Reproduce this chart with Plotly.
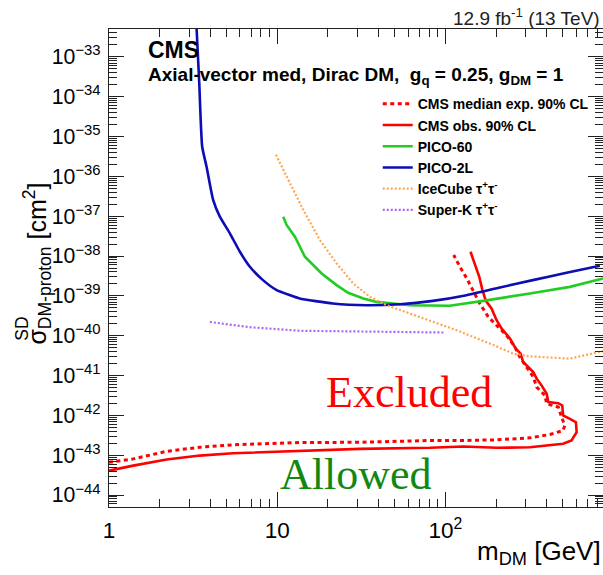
import plotly.graph_objects as go

# ---------------- data ----------------
# CMS median expected 90% CL (dotted red)
exp_mass = [1.0, 1.393, 2.20, 3.47, 5.45, 7.89, 13.6, 31.0, 80.9, 127.6, 201.6, 318, 418, 501, 513,
            491, 469, 400, 391, 349, 333, 304, 277, 259, 231, 206, 180, 160, 146, 134, 122, 112]
exp_xsec = [6.62e-44, 8.07e-44, 1.25e-43, 1.58e-43, 1.82e-43, 1.9e-43, 2.07e-43, 2.11e-43, 2.33e-43,
            2.33e-43, 2.43e-43, 2.72e-43, 3.30e-43, 4.16e-43, 5.56e-43, 9.0e-43, 1.61e-42, 1.95e-42,
            3.16e-42, 5.12e-42, 9.14e-42, 1.63e-41, 2.90e-41, 5.20e-41, 1.02e-40, 1.66e-40, 2.95e-40,
            6.43e-40, 1.39e-39, 2.74e-39, 5.37e-39, 1.06e-38]

# CMS observed 90% CL (solid red)
obs_mass = [1.0, 1.393, 2.20, 3.47, 5.45, 7.89, 13.6, 31.0, 80.9, 127.6, 201.6, 318, 501, 562, 603,
            597, 550, 501, 495, 469, 409, 400, 373, 349, 333, 311, 290, 280, 262, 242, 216, 201.6,
            188, 174, 166, 159, 150, 141]
obs_xsec = [4.09e-44, 5.47e-44, 7.76e-44, 9.77e-44, 1.117e-43, 1.18e-43, 1.31e-43, 1.44e-43, 1.53e-43,
            1.65e-43, 1.53e-43, 1.58e-43, 1.93e-43, 2.33e-43, 3.77e-43, 6.73e-43, 8.20e-43, 9.93e-43,
            1.77e-42, 2.02e-42, 2.15e-42, 3.49e-42, 5.65e-42, 8.32e-42, 1.22e-41, 1.63e-41, 2.18e-41,
            3.55e-41, 4.74e-41, 8.46e-41, 1.51e-40, 2.44e-40, 4.81e-40, 7.48e-40, 1.39e-39, 3.01e-39,
            5.92e-39, 1.28e-38]

# PICO-60 (green)
pico60_mass = [10.86, 11.37, 12.74, 14.61, 18.37, 22.55, 26.4, 32.5, 39.0, 46.8, 61.5, 106, 168, 318, 550, 864]
pico60_xsec = [9.73e-38, 6.01e-38, 3.05e-38, 9.58e-39, 3.66e-39, 1.86e-39, 1.19e-39, 8.59e-40, 7.05e-40,
               6.43e-40, 5.82e-40, 5.66e-40, 7.48e-40, 1.15e-39, 1.68e-39, 2.74e-39]

# PICO-2L (blue)
pico2l_mass = [3.30, 3.32, 3.44, 3.58, 3.80, 4.16, 4.56, 5.23, 6.00, 6.88, 8.23, 9.93, 11.9, 13.6, 21.4,
               34.0, 53.6, 84.3, 133.7, 211, 331, 525, 829]
pico2l_xsec = [1e-32, 4.86e-33, 2.22e-34, 5.62e-36, 1.76e-36, 2.56e-37, 9.72e-38, 3.72e-38, 1.28e-38,
               5.36e-39, 2.48e-39, 1.39e-39, 1.04e-39, 8.59e-40, 6.43e-40, 5.82e-40, 6.17e-40,
               7.48e-40, 1.04e-39, 1.62e-39, 2.48e-39, 3.78e-39, 5.69e-39]

# IceCube tau+tau- (orange dotted)
icecube_mass = [9.82, 11.9, 14.28, 17.94, 22.55, 28.3, 35.6, 44.7, 61.5, 80.9, 116.6, 184, 253, 318, 550, 864]
icecube_xsec = [3.48e-36, 6.74e-37, 1.44e-37, 2.52e-38, 6.53e-39, 2.05e-39, 9.42e-40, 5.82e-40, 3.60e-40,
                2.44e-40, 1.37e-40, 6.33e-41, 3.55e-41, 3.03e-41, 2.65e-41, 4.12e-41]

# Super-K tau+tau- (purple dotted)
superk_mass = [3.98, 6.88, 13.6, 35.6, 99.3]
superk_xsec = [2.21e-40, 1.63e-40, 1.33e-40, 1.29e-40, 1.20e-40]

SANS = "Liberation Sans, Arial, Helvetica, sans-serif"
SERIF = "Liberation Serif, Times New Roman, serif"

fig = go.Figure()

fig.add_trace(go.Scatter(x=exp_mass, y=exp_xsec, mode="lines", name="CMS median exp. 90% CL",
                         line=dict(color="#ff0000", width=3, dash="4px,3.5px")))
fig.add_trace(go.Scatter(x=obs_mass, y=obs_xsec, mode="lines", name="CMS obs. 90% CL",
                         line=dict(color="#ff0000", width=2.6)))
fig.add_trace(go.Scatter(x=pico60_mass, y=pico60_xsec, mode="lines", name="PICO-60",
                         line=dict(color="#22cc22", width=2.6)))
fig.add_trace(go.Scatter(x=pico2l_mass, y=pico2l_xsec, mode="lines", name="PICO-2L",
                         line=dict(color="#0d0db5", width=2.6, shape="spline", smoothing=0.5)))
fig.add_trace(go.Scatter(x=icecube_mass, y=icecube_xsec, mode="lines",
                         name="IceCube τ<sup>+</sup>τ<sup>-</sup>",
                         line=dict(color="#ffa54f", width=2.2, dash="2px,2px")))
fig.add_trace(go.Scatter(x=superk_mass, y=superk_xsec, mode="lines",
                         name="Super-K τ<sup>+</sup>τ<sup>-</sup>",
                         line=dict(color="#aa66ee", width=2.2, dash="2px,2px")))

axis_common = dict(
    type="log", showline=True, linecolor="#222", linewidth=1, mirror="allticks",
    ticks="inside", ticklen=15, tickcolor="#222", tickwidth=1,
    showgrid=False, zeroline=False, dtick=1, exponentformat="power",
    minor=dict(ticks="inside", ticklen=8, tickcolor="#222", dtick="D1", showgrid=False),
)

fig.update_xaxes(range=[0, 2.937], ticklabelstandoff=4,
                 tickfont=dict(family=SANS, size=18, color="black"), **axis_common)
fig.update_yaxes(range=[-44.301, -32.301], ticklabelstandoff=4,
                 tickfont=dict(family=SANS, size=17, color="black"), **axis_common)

fig.update_layout(
    width=603, height=575,
    margin=dict(l=109, r=0, t=29, b=68),
    plot_bgcolor="white", paper_bgcolor="white",
    legend=dict(x=0.544, y=0.876, xanchor="left", yanchor="top",
                font=dict(family=SANS, size=14, color="black", weight="bold"),
                bgcolor="rgba(0,0,0,0)", borderwidth=0, tracegroupgap=0),
)

ann = [
    dict(text="CMS", x=0.0743, y=0.956, xanchor="left", yanchor="middle",
         font=dict(family=SANS, size=23, color="black", weight="bold")),
    dict(text="Axial-vector med, Dirac DM,\u00a0 g<sub>q</sub> = 0.25, g<sub>DM</sub> = 1",
         x=0.0743, y=0.902, xanchor="left", yanchor="middle",
         font=dict(family=SANS, size=19, color="black", weight="bold")),
    dict(text="12.9 fb<sup>-1</sup> (13 TeV)", x=0.998, y=1.025, xanchor="right", yanchor="middle",
         font=dict(family=SANS, size=19, color="#222")),
    dict(text="Excluded", x=0.608, y=0.2385, xanchor="center", yanchor="middle",
         font=dict(family=SERIF, size=44, color="#ff0000")),
    dict(text="Allowed", x=0.501, y=0.067, xanchor="center", yanchor="middle",
         font=dict(family=SERIF, size=44, color="#118811")),
    dict(text="m<sub>DM</sub> [GeV]", x=0.999, y=-0.095, xanchor="right", yanchor="middle",
         font=dict(family=SANS, size=26, color="black")),
    # y-axis title: main part and the stacked superscript
    dict(text="σ<sub>DM-proton</sub> [cm<sup>2</sup>]", x=-0.146, y=0.509,
         xanchor="center", yanchor="middle", textangle=-90,
         font=dict(family=SANS, size=25, color="black")),
    dict(text="SD", x=-0.175, y=0.372,
         xanchor="center", yanchor="middle", textangle=-90,
         font=dict(family=SANS, size=17.5, color="black")),
]
for a in ann:
    a.update(xref="paper", yref="paper", showarrow=False)
    fig.add_annotation(**a)

fig.write_html("out.html")
